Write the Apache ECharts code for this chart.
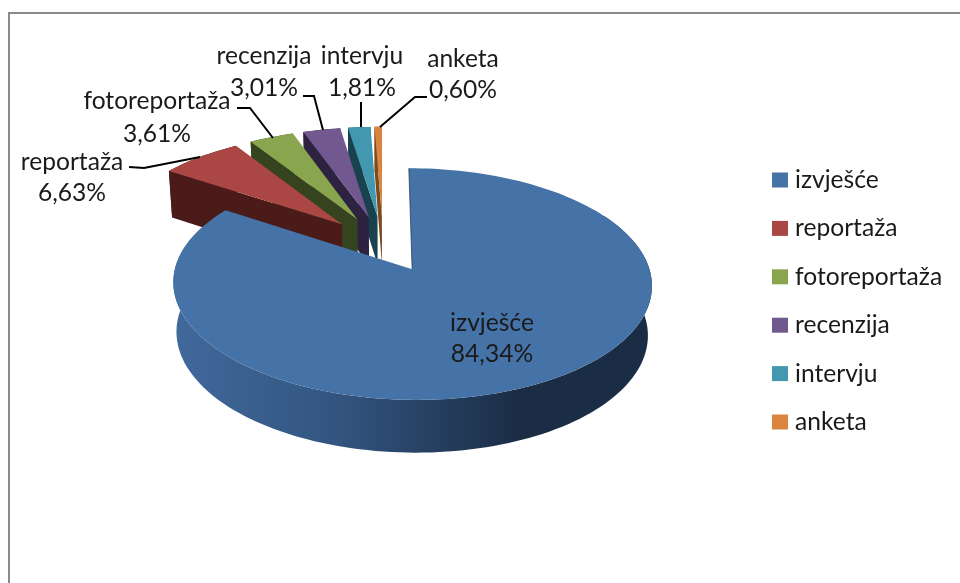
<!DOCTYPE html>
<html>
<head>
<meta charset="utf-8">
<script src="https://cdn.jsdelivr.net/npm/echarts@6/dist/echarts.min.js"></script>
<style>
  html, body { margin: 0; padding: 0; background: #fff; }
  #chart { width: 960px; height: 583px; }
</style>
</head>
<body>
<div id="chart"></div>
<script>
const categories = ['izvješće', 'reportaža', 'fotoreportaža', 'recenzija', 'intervju', 'anketa'];
const shares = [84.34, 6.63, 3.61, 3.01, 1.81, 0.6];
const topColors = ['#4572A7', '#AA4643', '#89A54E', '#71588F', '#4198AF', '#DB843D'];
const wallColors = ['#1b2d45', '#4a1b18', '#36431f', '#2d2340', '#1a424e', '#7a4a20'];

// label centre [x, y of first line]; the second line sits one lineGap below
const labelAt = [[492, 323], [72, 162], [157, 101], [264, 56], [362, 56], [463, 59]];
const labelGap = [31, 31, 33, 32, 32, 31];
const leaderLines = [
  null,
  [[129, 167], [144, 168], [200, 157]],
  [[237, 108], [250, 108], [273, 138]],
  [[303, 96], [314, 96], [323, 130]],
  [[361, 102], [361, 127]],
  [[427, 97], [415, 97], [380, 127]]
];

// 3D pie: plane of unit radius seen in perspective
const CX = 383, CY = 243.8;
const RX = 230.5, RY = 107.5, PERSP = 0.125;
const EXPLODE = 0.26, DEPTH = 48.5, NARROW = 0.985;
const FONT = '24.6px Lato, "Noto Sans", sans-serif';

function project(u, v, low) {
  const w = 1 + PERSP * v;
  let x = RX * u / w;
  if (low) x *= NARROW;
  return [CX + x, CY - RY * v / w + (low ? DEPTH / Math.sqrt(w) : 0)];
}

function sliceShapes(startPct, share, rimFrom) {
  const a0 = startPct / 100 * 2 * Math.PI;
  const a1 = (startPct + share) / 100 * 2 * Math.PI;
  const mid = (a0 + a1) / 2;
  const ou = EXPLODE * Math.sin(mid), ov = EXPLODE * Math.cos(mid);
  const steps = Math.max(2, Math.ceil((a1 - a0) / 0.03));
  const top = [], rimTop = [], rimLow = [];
  let firstLow = null;
  for (let i = 0; i <= steps; i++) {
    const a = a0 + (a1 - a0) * i / steps;
    const u = ou + Math.sin(a), v = ov + Math.cos(a);
    top.push(project(u, v, false));
    if (!firstLow) firstLow = project(u, v, true);
    if (a >= rimFrom) {
      rimTop.push(project(u, v, false));
      rimLow.push(project(u, v, true));
    }
  }
  return {
    top: [project(ou, ov, false)].concat(top),
    rim: rimTop.concat(rimLow.reverse()),
    // side wall along the starting radius
    side: [project(ou, ov, false), top[0], firstLow, project(ou, ov, true)]
  };
}

const wallGradient = new echarts.graphic.LinearGradient(0, 0, 1, 0, [
  { offset: 0, color: '#41699b' },
  { offset: 0.35, color: '#32547f' },
  { offset: 0.72, color: '#1b2d45' },
  { offset: 1, color: '#1b2d45' }
]);

function makeSeries(idx) {
  const start = shares.slice(0, idx).reduce((a, b) => a + b, 0);
  return {
    type: 'custom',
    name: categories[idx],
    coordinateSystem: 'none',
    silent: true,
    clip: false,
    itemStyle: { color: topColors[idx] },
    data: [[shares[idx], start]],
    renderItem: (params, api) => {
      // the big slice starts at the back, its first part of rim is out of sight
      const s = sliceShapes(api.value(1), api.value(0), idx === 0 ? Math.PI / 3 : 0);
      const children = [];
      if (idx === 0) {
        children.push({ type: 'polygon', shape: { points: s.rim }, style: { fill: wallGradient } });
      } else {
        children.push({ type: 'polygon', shape: { points: s.rim }, style: { fill: wallColors[idx] } });
        children.push({ type: 'polygon', shape: { points: s.side }, style: { fill: wallColors[idx] } });
      }
      children.push({ type: 'polygon', shape: { points: s.top }, style: { fill: topColors[idx] } });
      if (idx === 0) {
        // thin dark edge on the inner radius
        children.push({
          type: 'polyline',
          shape: { points: [s.top[0], s.top[1]] },
          style: { fill: null, stroke: wallColors[0], lineWidth: 1, opacity: 0.7 }
        });
      }
      if (leaderLines[idx]) {
        children.push({
          type: 'polyline',
          shape: { points: leaderLines[idx] },
          style: { fill: null, stroke: '#000', lineWidth: 2 }
        });
      }
      const pct = api.value(0).toFixed(2).replace('.', ',') + '%';
      [categories[idx], pct].forEach((t, i) => {
        children.push({
          type: 'text',
          style: {
            text: t,
            x: labelAt[idx][0],
            y: labelAt[idx][1] + i * labelGap[idx],
            align: 'center',
            verticalAlign: 'middle',
            font: FONT,
            fill: '#1a1a1a'
          }
        });
      });
      return { type: 'group', children };
    }
  };
}

const myChart = echarts.init(document.getElementById('chart'), null, { renderer: 'canvas' });
// drawn back to front: smallest slices first, the big one last
const drawOrder = categories.map((c, i) => i).reverse();
myChart.setOption({
  animation: false,
  backgroundColor: '#fff',
  graphic: [{
    type: 'rect',
    shape: { x: 9, y: 13, width: 1000, height: 620 },
    style: { fill: null, stroke: '#8a8a8a', lineWidth: 2 },
    silent: true,
    z: -1
  }],
  legend: {
    orient: 'vertical',
    left: 772,
    top: 166,
    padding: 0,
    data: categories,
    icon: 'rect',
    itemWidth: 16,
    itemHeight: 15,
    itemGap: 20.4,
    selectedMode: false,
    textStyle: { fontFamily: 'Lato, "Noto Sans", sans-serif', fontSize: 24.6, color: '#1a1a1a', padding: [0, 0, 0, 2], lineHeight: 28 }
  },
  series: drawOrder.map(makeSeries)
});
</script>
</body>
</html>
